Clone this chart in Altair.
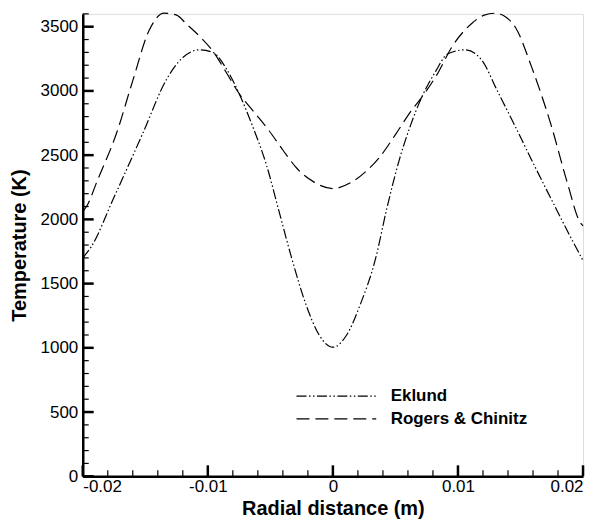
import altair as alt
import pandas as pd

# ---- data ----
series_names = ["Eklund", "Rogers & Chinitz"]

eklund_r = [-0.0200, -0.0193, -0.0176, -0.0152, -0.0133, -0.0120, -0.0107, -0.0096,
            -0.0085, -0.0075, -0.0064, -0.0053, -0.0043, -0.0033, -0.0022, -0.0011,
            0.0, 0.0011, 0.0022, 0.0034, 0.0043, 0.0053, 0.0062, 0.0071, 0.0082,
            0.0092, 0.0106, 0.0119, 0.0132, 0.0146, 0.0159, 0.0175, 0.0188, 0.0200]
eklund_t = [1700, 1790, 2150, 2670, 3090, 3260, 3320, 3300,
            3170, 2980, 2720, 2420, 2060, 1700, 1350, 1100,
            1005, 1100, 1340, 1690, 2080, 2460, 2730, 2950, 3150,
            3290, 3320, 3240, 2990, 2720, 2460, 2150, 1900, 1680]

rogers_r = [-0.0200, -0.0197, -0.0188, -0.0173, -0.0160, -0.0147, -0.0135, -0.0125,
            -0.0117, -0.0106, -0.0096, -0.0085, -0.0075, -0.0063, -0.0051, -0.0040,
            -0.0029, -0.0015, 0.0, 0.0015, 0.0026, 0.0037, 0.0050, 0.0063, 0.0071,
            0.0084, 0.0095, 0.0111, 0.0121, 0.0130, 0.0139, 0.0146, 0.0159, 0.0175,
            0.0187, 0.0198, 0.0200]
rogers_t = [2060, 2100, 2310, 2670, 3080, 3470, 3605, 3590,
            3520, 3420, 3310, 3140, 2980, 2835, 2690, 2540,
            2400, 2290, 2240, 2290, 2370, 2480, 2660, 2850, 2950,
            3140, 3340, 3525, 3590, 3605, 3570, 3494, 3183, 2717,
            2300, 1972, 1950]

y_major_ticks = [0, 500, 1000, 1500, 2000, 2500, 3000, 3500]
y_minor_ticks = [v for v in range(100, 3700, 100) if v % 500 != 0]
x_major_ticks = [-0.02, -0.01, 0.0, 0.01, 0.02]
x_minor_ticks = [round(-0.02 + 0.002 * i, 3) for i in range(21) if i % 5 != 0]

# ---- tables ----
df = pd.concat([
    pd.DataFrame({"r": eklund_r, "T": eklund_t, "series": series_names[0]}),
    pd.DataFrame({"r": rogers_r, "T": rogers_t, "series": series_names[1]}),
])
ymaj = pd.DataFrame({"T": y_major_ticks})
ymin = pd.DataFrame({"T": y_minor_ticks})
xmaj = pd.DataFrame({"r": x_major_ticks})
xmin = pd.DataFrame({"r": x_minor_ticks})

W, H = 502, 464
xs = alt.Scale(domain=[-0.02, 0.02], nice=False, zero=False)
ys = alt.Scale(domain=[0, 3600], nice=False, zero=False)

label_expr = ("datum.value == 0 ? '0' : (datum.value < 0 ? '-' + format(abs(datum.value), '.2f')"
              " : format(datum.value, '.2f'))")

lines = alt.Chart(df).mark_line(color="black", strokeWidth=1.2, interpolate="monotone").encode(
    x=alt.X("r:Q", scale=xs,
            axis=alt.Axis(values=x_major_ticks, title="Radial distance (m)", labelExpr=label_expr,
                          labelPadding=2, titlePadding=4)),
    y=alt.Y("T:Q", scale=ys,
            axis=alt.Axis(values=y_major_ticks, title="Temperature (K)", format="d",
                          labelPadding=5, titlePadding=11)),
    strokeDash=alt.StrokeDash(
        "series:N",
        scale=alt.Scale(domain=series_names,
                        range=[[10, 2.5, 1.5, 2.5, 1.5, 2.5], [13, 6]]),
        legend=alt.Legend(title=None, orient="none", legendX=246, legendY=375,
                          symbolType="M-8,0H8", symbolSize=100, symbolStrokeWidth=1.2,
                          symbolStrokeColor="black", labelFontSize=17, labelFontWeight="bold",
                          labelColor="black", labelOffset=46, rowPadding=5, padding=0),
    ),
)

ytick_major = alt.Chart(ymaj).mark_rule(color="black", strokeWidth=2.5).encode(
    y=alt.Y("T:Q", scale=ys), x=alt.value(0), x2=alt.value(11))
ytick_minor = alt.Chart(ymin).mark_rule(color="black", strokeWidth=1.2).encode(
    y=alt.Y("T:Q", scale=ys), x=alt.value(0), x2=alt.value(6))
xtick_major = alt.Chart(xmaj).mark_rule(color="black", strokeWidth=2.5).encode(
    x=alt.X("r:Q", scale=xs), y=alt.value(H), y2=alt.value(H - 11))
xtick_minor = alt.Chart(xmin).mark_rule(color="black", strokeWidth=1.2).encode(
    x=alt.X("r:Q", scale=xs), y=alt.value(H), y2=alt.value(H - 6))

chart = alt.layer(lines, ytick_major, ytick_minor, xtick_major, xtick_minor).properties(
    width=W, height=H,
    autosize=alt.AutoSizeParams(type="none"),
    padding={"left": 75, "top": 5, "right": 10, "bottom": 43},
).configure_view(stroke=None).configure(
    font="Liberation Sans", background="white"
).configure_axis(
    domainColor="black", domainWidth=2.5, ticks=False, tickSize=0, grid=False,
    labelFont="Liberation Sans", labelFontSize=17, labelColor="black",
    titleFont="Liberation Sans", titleFontSize=20, titleFontWeight="bold", titleColor="black",
)

chart.save("out.html", embed_options={"renderer": "svg", "actions": False})
